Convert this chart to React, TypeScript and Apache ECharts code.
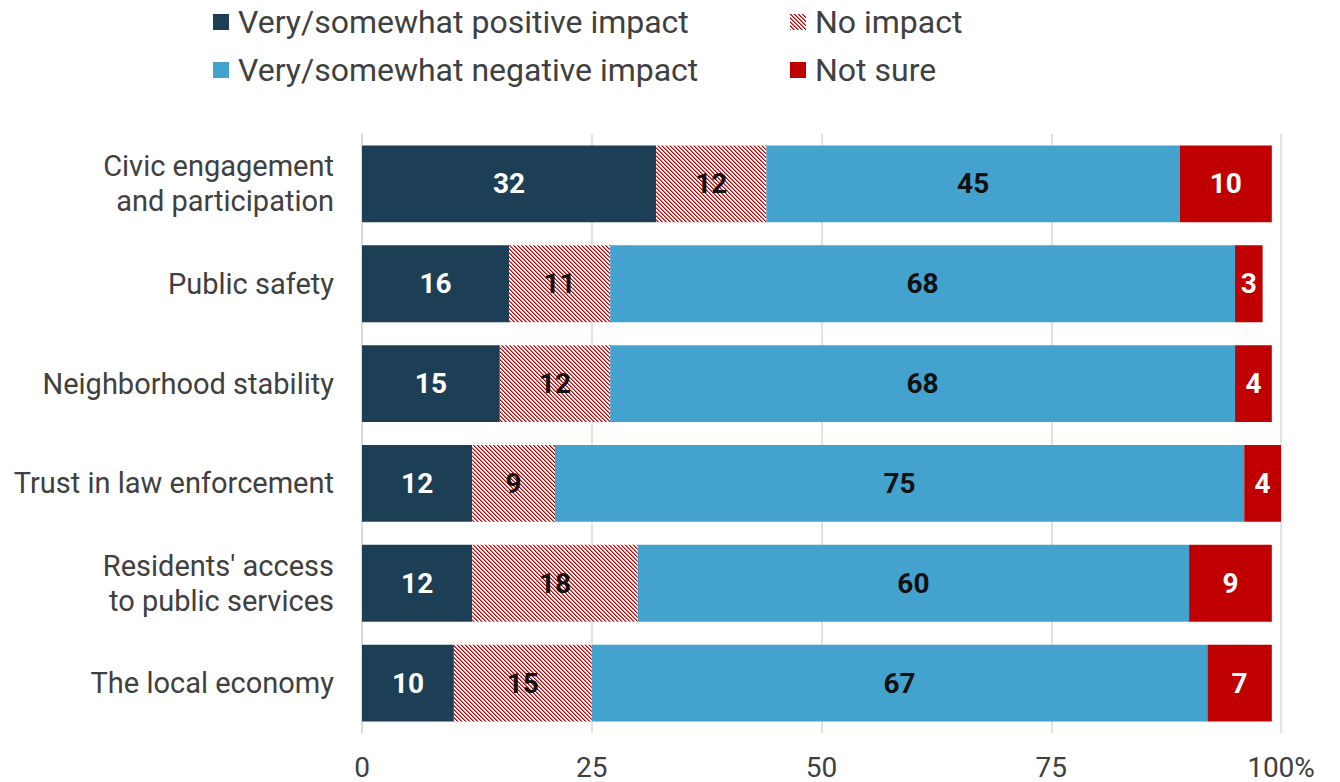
import React, { useEffect, useRef } from "react";
import * as echarts from "echarts";

const categories = [
  "Civic engagement\nand participation",
  "Public safety",
  "Neighborhood stability",
  "Trust in law enforcement",
  "Residents' access\nto public services",
  "The local economy",
];
const positive = [32, 16, 15, 12, 12, 10];
const noImpact = [12, 11, 12, 9, 18, 15];
const negative = [45, 68, 68, 75, 60, 67];
const notSure = [10, 3, 4, 4, 9, 7];
const xTicks = [0, 25, 50, 75, 100];

const seriesNames = [
  "Very/somewhat positive impact",
  "No impact",
  "Very/somewhat negative impact",
  "Not sure",
];

function makeHatch(): string {
  const c = document.createElement("canvas");
  c.width = 8;
  c.height = 8;
  const ctx = c.getContext("2d")!;
  ctx.fillStyle = "#ffffff";
  ctx.fillRect(0, 0, 8, 8);
  for (let x = 0; x < 8; x++) {
    for (let y = 0; y < 8; y++) {
      const d = (((x - y) % 4) + 4) % 4;
      if (d === 0) {
        ctx.fillStyle = "#c00000";
        ctx.fillRect(x, y, 1, 1);
      } else if (d === 1) {
        ctx.fillStyle = "#e07070";
        ctx.fillRect(x, y, 1, 1);
      }
    }
  }
  return c.toDataURL();
}

export default function App() {
  const ref = useRef<HTMLDivElement>(null);
  useEffect(() => {
    if (!ref.current) return;
    const chart = echarts.init(ref.current, null, { renderer: "svg" });
    const font = "Roboto";
    const hatch = { image: makeHatch(), repeat: "repeat" };
    const colors = ["#1d3f55", hatch, "#44a2cf", "#c00000"];
    const labelColors = ["#ffffff", "#111111", "#111111", "#ffffff"];
    const datas = [positive, noImpact, negative, notSure];
    const legendText = {
      fontSize: 32,
      lineHeight: 32,
      color: "#404040",
      fontFamily: font,
      padding: [0, 0, 0, 4],
    };
    chart.setOption({
      animation: false,
      textStyle: { fontFamily: font },
      legend: [
        {
          left: 213,
          top: 6,
          orient: "vertical",
          itemGap: 16,
          itemWidth: 16,
          itemHeight: 16,
          icon: "rect",
          padding: 0,
          textStyle: legendText,
          data: [seriesNames[0], seriesNames[2]],
        },
        {
          left: 790,
          top: 6,
          orient: "vertical",
          itemGap: 16,
          itemWidth: 16,
          itemHeight: 16,
          icon: "rect",
          padding: 0,
          textStyle: legendText,
          data: [seriesNames[1], seriesNames[3]],
        },
      ],
      grid: { left: 362, right: 59, top: 134, bottom: 49, containLabel: false },
      xAxis: {
        type: "value",
        min: xTicks[0],
        max: xTicks[xTicks.length - 1],
        interval: 25,
        axisLine: { show: false },
        axisTick: { show: false },
        splitLine: { show: true, lineStyle: { color: "#d9d9d9", width: 1.5 } },
        axisLabel: {
          fontSize: 28,
          color: "#404040",
          margin: 20,
          fontFamily: font,
          formatter: (v: number) => (v === 100 ? "100%" : String(v)),
        },
      },
      yAxis: {
        type: "category",
        data: categories,
        inverse: true,
        axisLine: { show: true, lineStyle: { color: "#d9d9d9", width: 1.5 } },
        axisTick: { show: false },
        axisLabel: {
          fontSize: 29,
          color: "#404040",
          margin: 28,
          lineHeight: 35,
          fontFamily: font,
        },
      },
      series: datas.map((d, i) => ({
        name: seriesNames[i],
        type: "bar",
        stack: "total",
        barCategoryGap: "23%",
        data: d,
        itemStyle: { color: colors[i] },
        label: {
          show: true,
          position: "inside",
          fontSize: 28,
          fontWeight: "bold",
          color: labelColors[i],
          fontFamily: font,
        },
      })),
    });
    return () => chart.dispose();
  }, []);
  return (
    <div
      ref={ref}
      style={{ width: 1340, height: 782, position: "absolute", left: 0, top: 0, background: "#fff" }}
    />
  );
}
